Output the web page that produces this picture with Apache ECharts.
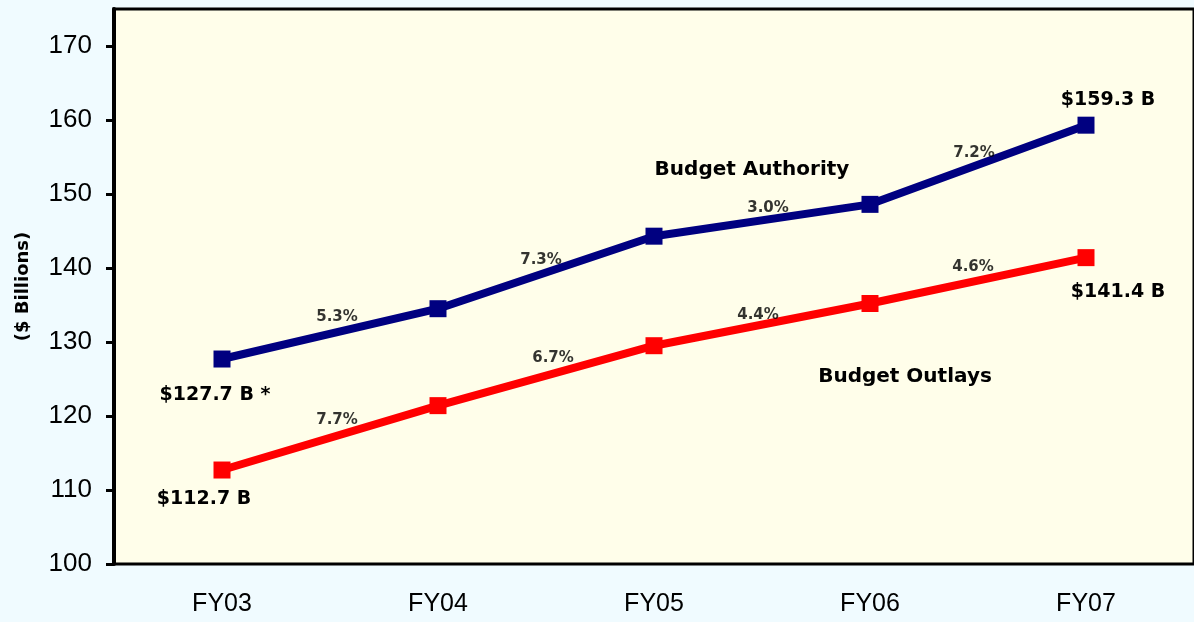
<!DOCTYPE html>
<html>
<head>
<meta charset="utf-8">
<script src="https://cdn.jsdelivr.net/npm/echarts@6/dist/echarts.min.js"></script>
<style>
  html, body { margin: 0; padding: 0; background: #f0fbff; }
  #chart { width: 1194px; height: 622px; }
</style>
</head>
<body>
<div id="chart"></div>
<script>
// Fiscal years on the category axis
const years = ['FY03', 'FY04', 'FY05', 'FY06', 'FY07'];
// Budget authority and outlays, $ billions
const authority = [127.7, 134.5, 144.3, 148.6, 159.3];
const outlays = [112.7, 121.4, 129.5, 135.2, 141.4];
// Year-over-year growth shown between consecutive years
const authorityGrowth = ['5.3%', '7.3%', '3.0%', '7.2%'];
const outlaysGrowth = ['7.7%', '6.7%', '4.4%', '4.6%'];
// Value-axis tick labels
const yTicks = [100, 110, 120, 130, 140, 150, 160, 170];

const BLUE = '#000080';
const RED = '#ff0000';
const labelFont = { fontFamily: 'DejaVu Sans', fontWeight: 'bold', color: '#000' };

// End-point value labels ($ amounts) with placement around the marker
function endLabels(values, first, last) {
  return values.map((v, i) => {
    const item = { value: v };
    if (i === 0 || i === values.length - 1) {
      const spec = i === 0 ? first : last;
      item.label = Object.assign({
        show: true, position: 'inside', fontSize: 19,
        formatter: '$' + v.toFixed(1) + ' B' + (spec.suffix || '')
      }, labelFont, { offset: spec.offset });
    }
    return item;
  });
}

// Growth labels sit between two years, above the connecting segment
function growthPoints(values, labels, offsets) {
  return labels.map((t, i) => ({
    value: [i + 0.5, (values[i] + values[i + 1]) / 2],
    label: Object.assign({ show: true, position: 'inside', fontSize: 15,
      formatter: t, offset: offsets[i] }, labelFont)
  }));
}

const chart = echarts.init(document.getElementById('chart'));
chart.setOption({
  backgroundColor: '#f0fbff',
  animation: false,
  grid: {
    left: 114, right: -5, top: 9, bottom: 58,
    show: true, backgroundColor: '#fffeea',
    borderColor: '#000', borderWidth: 3
  },
  xAxis: [{
    type: 'category', data: years, boundaryGap: true,
    axisLine: { show: false }, axisTick: { show: false },
    axisLabel: { fontFamily: 'Liberation Sans', fontSize: 25, color: '#000', margin: 28 }
  }, {
    type: 'value', min: -0.5, max: 4.5, show: false
  }],
  yAxis: {
    type: 'value', min: 100, max: 175, interval: 10,
    name: '($ Billions)', nameLocation: 'middle', nameGap: 82, nameRotate: 90,
    nameTextStyle: { fontFamily: 'DejaVu Sans', fontWeight: 'bold', fontSize: 18, color: '#000' },
    splitLine: { show: false },
    axisLine: { show: true, onZero: false, lineStyle: { color: '#000', width: 4 } },
    axisTick: { show: true, customValues: yTicks, length: 8, lineStyle: { color: '#000', width: 3 } },
    axisLabel: { customValues: yTicks, fontFamily: 'Liberation Sans', fontSize: 26, color: '#000', margin: 22 }
  },
  series: [{
    name: 'Budget Authority', type: 'line',
    data: endLabels(authority, { offset: [-7, 36], suffix: ' *' }, { offset: [22, -25] }),
    symbol: 'rect', symbolSize: 17,
    lineStyle: { color: BLUE, width: 8 }, itemStyle: { color: BLUE }
  }, {
    name: 'Budget Outlays', type: 'line',
    data: endLabels(outlays, { offset: [-18, 29] }, { offset: [32, 34] }),
    symbol: 'rect', symbolSize: 17,
    lineStyle: { color: RED, width: 8 }, itemStyle: { color: RED }
  }, {
    type: 'scatter', xAxisIndex: 1, symbolSize: 0, silent: true, z: 5,
    data: growthPoints(authority, authorityGrowth, [[7, -17], [-5, -12], [6, -12], [-4, -12]])
  }, {
    type: 'scatter', xAxisIndex: 1, symbolSize: 0, silent: true, z: 5,
    data: growthPoints(outlays, outlaysGrowth, [[7, -18], [7, -18], [-4, -10], [-5, -13]])
  }],
  graphic: [{
    type: 'text', x: 752, y: 170,
    style: { text: 'Budget Authority', fontFamily: 'DejaVu Sans', fontWeight: 'bold', fontSize: 20,
      fill: '#000', align: 'center', verticalAlign: 'middle' }
  }, {
    type: 'text', x: 905, y: 377,
    style: { text: 'Budget Outlays', fontFamily: 'DejaVu Sans', fontWeight: 'bold', fontSize: 20,
      fill: '#000', align: 'center', verticalAlign: 'middle' }
  }]
});
</script>
</body>
</html>
